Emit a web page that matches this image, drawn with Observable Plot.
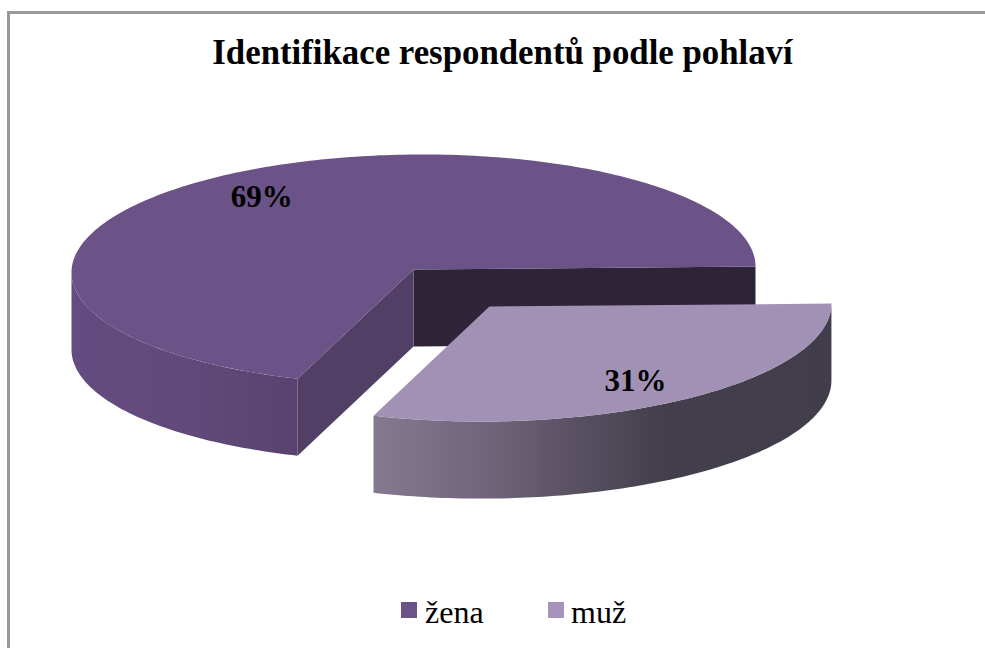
<!DOCTYPE html>
<html lang="cs">
<head>
<meta charset="utf-8">
<script src="https://cdn.jsdelivr.net/npm/d3@7"></script>
<script src="https://cdn.jsdelivr.net/npm/@observablehq/plot@0.6"></script>
<style>
  html, body { margin: 0; padding: 0; background: #fff; }
  #chart { position: relative; width: 985px; height: 648px; overflow: hidden; font-family: "Liberation Serif", serif; color: #000; }
  #chart svg { position: absolute; left: 0; top: 0; }
  #frame { position: absolute; left: 7px; top: 11px; right: 0; bottom: 0; border-left: 3px solid #999; border-top: 3px solid #999; }
  #title { position: absolute; left: 0; width: 1005px; top: 35px; text-align: center; font-size: 34.8px; line-height: 36px; font-weight: bold; white-space: nowrap; }
  .swatch { position: absolute; top: 602px; width: 16px; height: 16px; }
  .entry { position: absolute; top: 592px; font-size: 32px; line-height: 40px; white-space: nowrap; }
</style>
</head>
<body>
<div id="chart"></div>
<script>
const titleText = "Identifikace respondentů podle pohlaví";
const categories = ["žena", "muž"];
const shares = [69, 31];
const labels = ["69%", "31%"];
const topColors = ["#6b5287", "#a191b5"];
const wallColors = ["#2e2438", "#523f66"];
const legendColors = ["#6b5287", "#a593bb"];

// The pie lives in unit coordinates: radius 1 on both axes, y pointing down.
const tilt = 0.026;        // slight shear of the drawing's perspective
const depth = 0.67;        // height of the cylinder
const foreshorten = 0.984; // sweep seen through the perspective
const explode = [0.222, 0.322];

const sweep = (shares[1] / 100) * 360 * foreshorten;
const rad = (d) => (d * Math.PI) / 180;
const rim = (deg, ox = 0, oy = 0, dz = 0) => ({
  x: ox + Math.cos(rad(deg)),
  y: oy + Math.sin(rad(deg)) - tilt * Math.cos(rad(deg)) + dz
});
const arc = (a, b, ox, oy, dz) => {
  const n = Math.max(2, Math.ceil(Math.abs(b - a)));
  return d3.range(n + 1).map((i) => rim(a + ((b - a) * i) / n, ox, oy, dz));
};
const hub = (ox = 0, oy = 0, dz = 0) => ({x: ox, y: oy + dz});

const zenaWallRight = [hub(), rim(0), rim(0, 0, 0, depth), hub(0, 0, depth)];
const zenaWallFront = [hub(), rim(sweep), rim(sweep, 0, 0, depth), hub(0, 0, depth)];
const zenaSide = [...arc(sweep, 180, 0, 0, 0), ...arc(180, sweep, 0, 0, depth)];
const zenaTop = [hub(), ...arc(sweep, 360, 0, 0, 0)];
const [ex, ey] = explode;
const muzSide = [...arc(0, sweep, ex, ey, 0), ...arc(sweep, 0, ex, ey, depth)];
const muzTop = [hub(ex, ey), ...arc(0, sweep, ex, ey, 0)];

const face = (points, fill) => Plot.line(points, {x: "x", y: "y", fill, stroke: "none", curve: "linear"});

const gradient = (id, stops) =>
  `<linearGradient id="${id}" x1="0" x2="1" y1="0" y2="0">` +
  stops.map(([o, c]) => `<stop offset="${o}" stop-color="${c}"/>`).join("") +
  `</linearGradient>`;

const defs = () => {
  const g = document.createElementNS("http://www.w3.org/2000/svg", "defs");
  g.innerHTML =
    gradient("sideZena", [[0, "#644b80"], [0.5, "#614a79"], [1, "#5a4270"]]) +
    gradient("sideMuz", [[0, "#85798f"], [0.25, "#6f657a"], [0.5, "#524b5b"], [0.62, "#443f4d"], [1, "#423d4b"]]);
  return g;
};

const labelData = [
  {text: labels[0], x: -0.444, y: -0.626},
  {text: labels[1], x: 0.649, y: 0.974}
];

const plot = Plot.plot({
  width: 985,
  height: 648,
  margin: 0,
  style: {background: "transparent"},
  x: {domain: [-1, 1], range: [71, 755], axis: null},
  y: {domain: [-1, 1], range: [154, 384], axis: null},
  marks: [
    defs,
    face(zenaWallRight, wallColors[0]),
    face(zenaWallFront, wallColors[1]),
    face(zenaSide, "url(#sideZena)"),
    face(zenaTop, topColors[0]),
    face(muzSide, "url(#sideMuz)"),
    face(muzTop, topColors[1]),
    Plot.text(labelData, {
      x: "x", y: "y", text: "text",
      fontFamily: "Liberation Serif", fontWeight: "bold", fontSize: 31, fill: "#000"
    })
  ]
});

const chart = document.getElementById("chart");
chart.append(plot);

const frame = document.createElement("div");
frame.id = "frame";
chart.append(frame);

const title = document.createElement("div");
title.id = "title";
title.textContent = titleText;
chart.append(title);

const swatchLeft = [401, 548];
const entryLeft = [425, 571];
categories.forEach((c, i) => {
  const s = document.createElement("div");
  s.className = "swatch";
  s.style.left = swatchLeft[i] + "px";
  s.style.background = legendColors[i];
  chart.append(s);
  const t = document.createElement("div");
  t.className = "entry";
  t.style.left = entryLeft[i] + "px";
  t.textContent = c;
  chart.append(t);
});
</script>
</body>
</html>
